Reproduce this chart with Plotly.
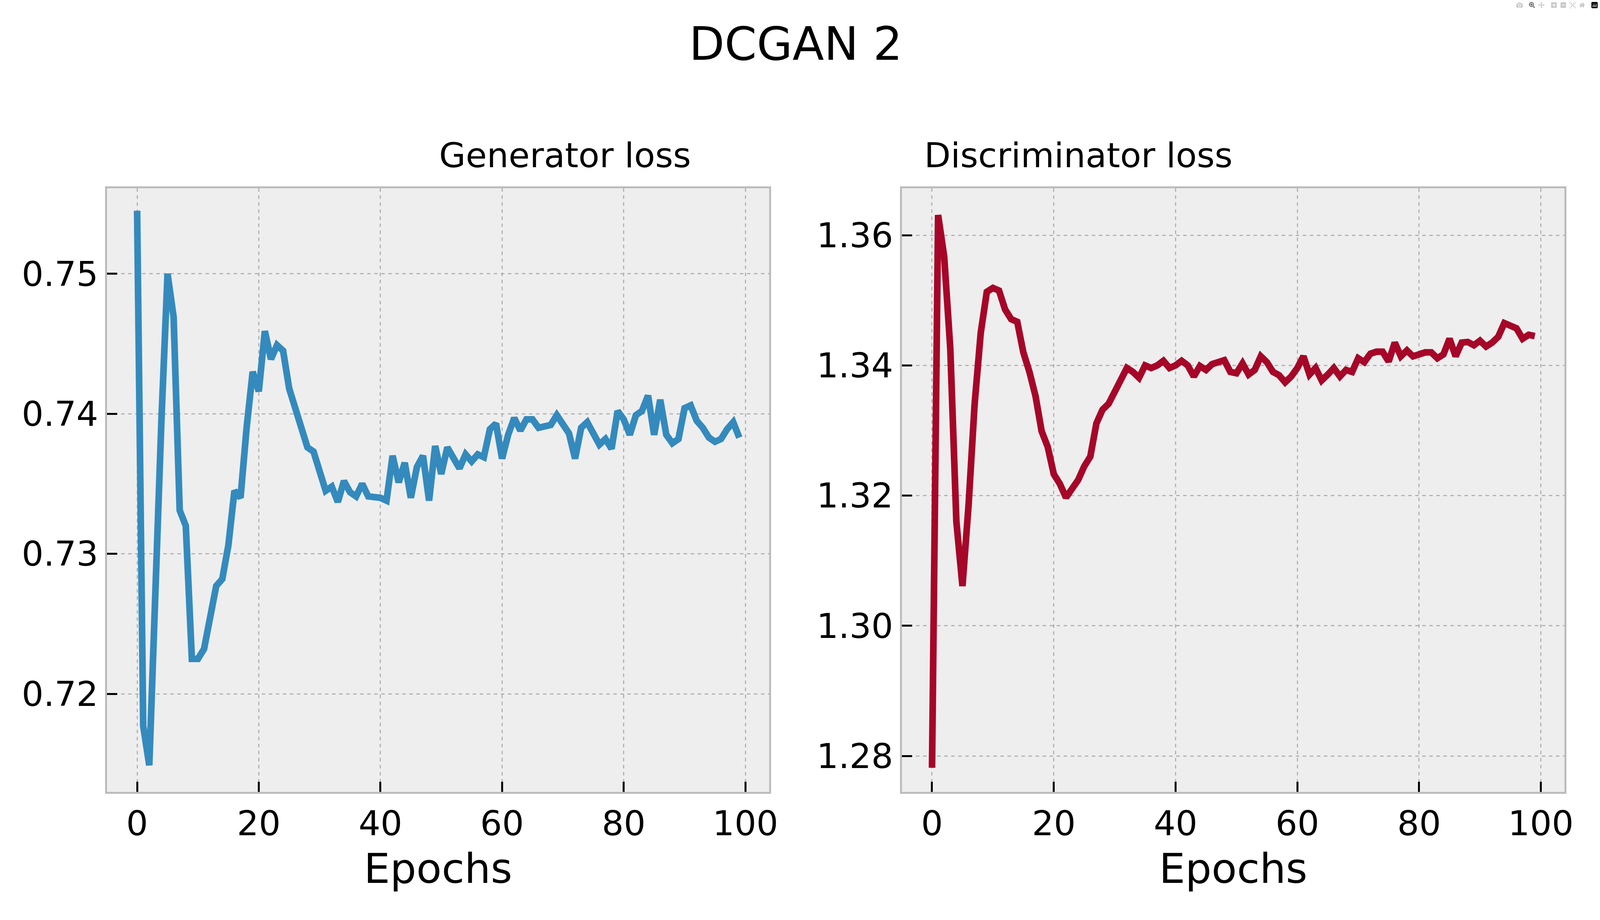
import plotly.graph_objects as go

epochs = list(range(100))
gen_loss = [0.7545,0.7177,0.7149,0.7284,0.7396,0.7500,0.7469,0.7331,0.7320,0.7225,
0.7225,0.7232,0.7256,0.7277,0.7282,0.7306,0.7345,0.7340,0.7390,0.7430,
0.7416,0.7459,0.7439,0.7449,0.7445,0.7418,0.7404,0.7390,0.7376,0.7373,
0.7357,0.7345,0.7348,0.7337,0.7352,0.7344,0.7341,0.7350,0.7341,0.7341,
0.7340,0.7338,0.7370,0.7351,0.7365,0.7340,0.7362,0.7370,0.7338,0.7377,
0.7357,0.7376,0.7369,0.7361,0.7371,0.7366,0.7371,0.7369,0.7389,0.7393,
0.7368,0.7385,0.7397,0.7388,0.7396,0.7396,0.7390,0.7391,0.7392,0.7399,
0.7393,0.7386,0.7368,0.7390,0.7394,0.7386,0.7378,0.7382,0.7375,0.7402,
0.7396,0.7385,0.7399,0.7402,0.7413,0.7385,0.7410,0.7385,0.7379,0.7382,
0.7404,0.7406,0.7395,0.7390,0.7383,0.7380,0.7382,0.7389,0.7394,0.7383]
disc_loss = [1.2782,1.3631,1.3567,1.3426,1.3160,1.3061,1.3185,1.3341,1.3450,1.3513,
1.3519,1.3515,1.3486,1.3471,1.3467,1.3420,1.3390,1.3353,1.3299,1.3275,
1.3233,1.3218,1.3197,1.3209,1.3224,1.3245,1.3260,1.3311,1.3332,1.3341,
1.3359,1.3374,1.3396,1.3390,1.3381,1.3400,1.3396,1.3400,1.3407,1.3396,
1.3400,1.3407,1.3400,1.3383,1.3399,1.3393,1.3402,1.3405,1.3408,1.3390,
1.3388,1.3403,1.3386,1.3393,1.3414,1.3405,1.3390,1.3385,1.3374,1.3383,
1.3396,1.3414,1.3386,1.3396,1.3377,1.3386,1.3396,1.3383,1.3393,1.3390,
1.3411,1.3405,1.3418,1.3421,1.3421,1.3406,1.3435,1.3414,1.3423,1.3414,
1.3417,1.3420,1.3420,1.3411,1.3417,1.3441,1.3414,1.3435,1.3436,1.3431,
1.3438,1.3429,1.3435,1.3444,1.3465,1.3461,1.3457,1.3441,1.3447,1.3445]

x_ticks = [0, 20, 40, 60, 80, 100]
gen_ticks = [0.72, 0.73, 0.74, 0.75]
disc_ticks = [1.28, 1.30, 1.32, 1.34, 1.36]

FONT = "DejaVu Sans"
fig = go.Figure()
fig.add_trace(go.Scatter(x=epochs, y=gen_loss, mode="lines",
                         line=dict(color="#348ABD", width=17), xaxis="x", yaxis="y"))
fig.add_trace(go.Scatter(x=epochs, y=disc_loss, mode="lines",
                         line=dict(color="#A60628", width=17), xaxis="x2", yaxis="y2"))

axis_common = dict(showgrid=True, gridcolor="#b2b2b2", gridwidth=3, griddash="dash",
                   showline=True, linecolor="#bcbcbc", linewidth=5, mirror=True,
                   ticks="inside", ticklen=26, tickwidth=5, tickcolor="black",
                   zeroline=False, tickfont=dict(family=FONT, size=88, color="black"))

fig.update_layout(
    autosize=True, margin=dict(l=0, r=0, t=0, b=0),
    paper_bgcolor="white", plot_bgcolor="#eeeeee", showlegend=False,
    font=dict(family=FONT, color="black"),
    xaxis=dict(domain=[0.0673, 0.4834], range=[-4.94, 103.9], tickvals=x_ticks,
               title=dict(text="Epochs", font=dict(size=106), standoff=30), anchor="y", **axis_common),
    yaxis=dict(domain=[0.1393, 0.7953], range=[0.7130, 0.7561], tickvals=gen_ticks,
               tickformat=".2f", anchor="x", **axis_common),
    xaxis2=dict(domain=[0.5669, 0.9834], range=[-4.94, 103.9], tickvals=x_ticks,
                title=dict(text="Epochs", font=dict(size=106), standoff=30), anchor="y2", **axis_common),
    yaxis2=dict(domain=[0.1393, 0.7953], range=[1.2745, 1.3672], tickvals=disc_ticks,
                tickformat=".2f", anchor="x2", **axis_common),
    annotations=[
        dict(text="DCGAN 2", x=0.5, y=1 - 112/2355, xref="paper", yref="paper",
             showarrow=False, font=dict(family=FONT, size=118), yanchor="middle"),
        dict(text="Generator loss", x=(0.0673+0.4834)/2, y=1 - 398/2355, xref="paper", yref="paper",
             showarrow=False, font=dict(family=FONT, size=88), yanchor="middle"),
        dict(text="Discriminator loss", x=(0.5669+0.9834)/2, y=1 - 398/2355, xref="paper", yref="paper",
             showarrow=False, font=dict(family=FONT, size=88), yanchor="middle"),
    ],
)
post = ("document.body.style.margin='0';document.body.style.overflow='hidden';"
        "var gd=document.getElementById('{plot_id}');gd.style.width='100vw';gd.style.height='100vh';"
        "Plotly.Plots.resize(gd);")
fig.write_html("out.html", default_width="100vw", default_height="100vh",
               config={"responsive": True}, post_script=post)
